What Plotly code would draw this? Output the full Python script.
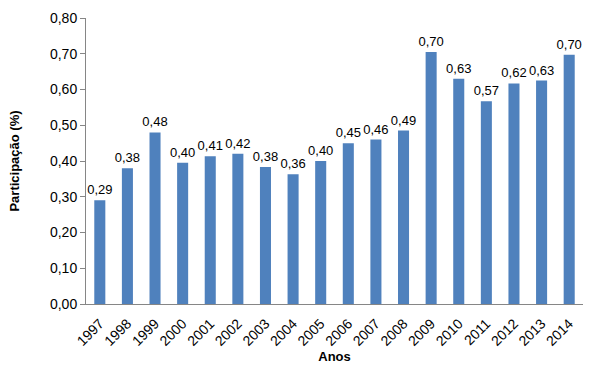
import plotly.graph_objects as go

anos = ["1997","1998","1999","2000","2001","2002","2003","2004","2005","2006","2007","2008","2009","2010","2011","2012","2013","2014"]
participacao = [0.29,0.38,0.48,0.395,0.413,0.42,0.383,0.363,0.40,0.45,0.46,0.485,0.705,0.63,0.567,0.617,0.625,0.697]
rotulos = ["0,29","0,38","0,48","0,40","0,41","0,42","0,38","0,36","0,40","0,45","0,46","0,49","0,70","0,63","0,57","0,62","0,63","0,70"]
y_ticks = [0,0.1,0.2,0.3,0.4,0.5,0.6,0.7,0.8]
y_tick_labels = ["0,00","0,10","0,20","0,30","0,40","0,50","0,60","0,70","0,80"]

fig = go.Figure(go.Bar(
    x=anos, y=participacao, text=rotulos, textposition="outside", constraintext="none",
    textfont=dict(size=13, color="black", family="Liberation Sans, Arial"),
    marker=dict(color="#4F81BD", line=dict(width=4, color="rgba(0,0,0,0)")), cliponaxis=False,
))
fig.update_layout(
    width=612, height=369, margin=dict(l=86, r=29, t=18, b=65),
    plot_bgcolor="white", paper_bgcolor="white", bargap=0.6, showlegend=False,
    uniformtext=dict(mode=False),
    font=dict(family="Liberation Sans, Arial", size=14, color="black"),
    xaxis=dict(type="category", tickangle=-45, showline=True, linecolor="#868686", linewidth=1,
               ticks="outside", ticklen=5, tickcolor="rgba(0,0,0,0)", showgrid=False, automargin=False,
               title=dict(text="<b>Anos</b>", font=dict(size=13), standoff=3)),
    yaxis=dict(range=[0,0.8], tickvals=y_ticks, ticktext=y_tick_labels, showline=True,
               linecolor="#868686", linewidth=1, ticks="outside", ticklen=5, tickcolor="#868686",
               showgrid=False, zeroline=False, automargin=False,
               title=dict(text="<b>Participação (%)</b>", font=dict(size=13), standoff=27)),
)
fig.write_html("out.html", config={"displayModeBar": False},
               post_script="document.body.style.margin='0';document.body.style.padding='0';")
